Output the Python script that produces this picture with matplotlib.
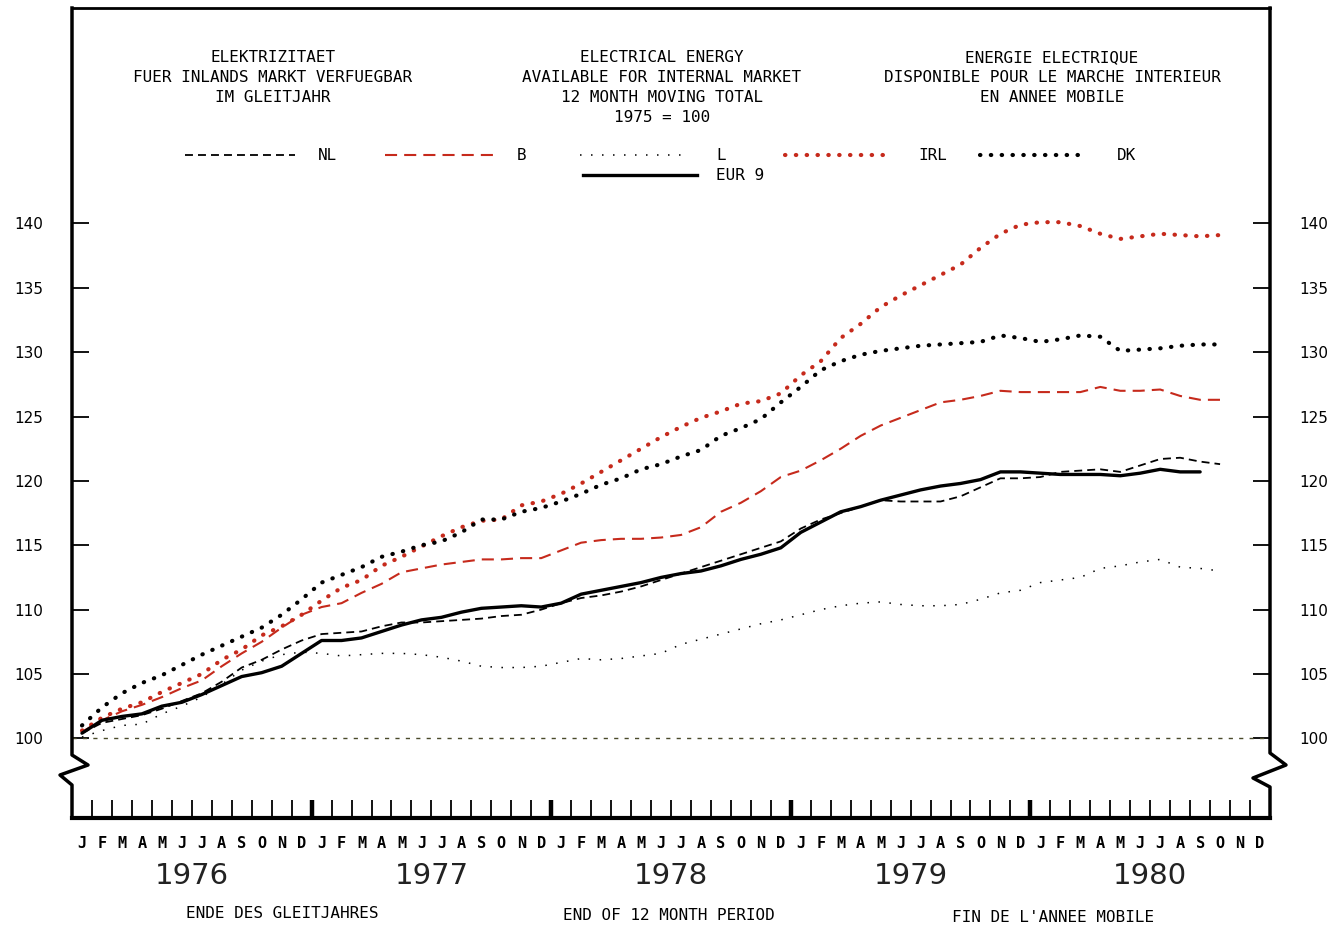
import matplotlib
matplotlib.use('Agg')
import matplotlib.pyplot as plt
import matplotlib.transforms as mtransforms
from matplotlib.lines import Line2D

# month letters and years along the bottom
months = list('JFMAMJJASOND') * 5
years = ['1976', '1977', '1978', '1979', '1980']

# index values, 1975 = 100, one value per month from Jan 1976
eur9 = [100.4, 101.4, 101.7, 101.9, 102.5, 102.8, 103.4, 104.1, 104.8, 105.1, 105.6, 106.6,
        107.6, 107.6, 107.8, 108.3, 108.8, 109.2, 109.4, 109.8, 110.1, 110.2, 110.3, 110.2,
        110.5, 111.2, 111.5, 111.8, 112.1, 112.5, 112.8, 113.0, 113.4, 113.9, 114.3, 114.8,
        116.0, 116.8, 117.6, 118.0, 118.5, 118.9, 119.3, 119.6, 119.8, 120.1, 120.7, 120.7,
        120.6, 120.5, 120.5, 120.5, 120.4, 120.6, 120.9, 120.7, 120.7]
nl = [100.4, 101.2, 101.5, 101.8, 102.3, 102.9, 103.5, 104.4, 105.5, 106.1, 106.9, 107.6,
      108.1, 108.2, 108.3, 108.7, 109.0, 109.0, 109.1, 109.2, 109.3, 109.5, 109.6, 110.0,
      110.5, 110.9, 111.1, 111.4, 111.8, 112.3, 112.8, 113.3, 113.8, 114.3, 114.8, 115.3,
      116.3, 117.0, 117.5, 118.0, 118.5, 118.4, 118.4, 118.4, 118.8, 119.5, 120.2, 120.2,
      120.3, 120.7, 120.8, 120.9, 120.7, 121.2, 121.7, 121.8, 121.5, 121.3]
b = [100.5, 101.4, 102.1, 102.6, 103.2, 103.9, 104.5, 105.6, 106.6, 107.5, 108.6, 109.6,
     110.2, 110.5, 111.3, 112.0, 112.9, 113.2, 113.5, 113.7, 113.9, 113.9, 114.0, 114.0,
     114.6, 115.2, 115.4, 115.5, 115.5, 115.6, 115.8, 116.4, 117.6, 118.3, 119.2, 120.3,
     120.8, 121.6, 122.5, 123.5, 124.3, 124.9, 125.5, 126.1, 126.3, 126.6, 127.0, 126.9,
     126.9, 126.9, 126.9, 127.3, 127.0, 127.0, 127.1, 126.6, 126.3, 126.3]
lux = [100.1, 100.6, 101.0, 101.1, 101.9, 102.5, 103.2, 104.2, 105.3, 106.0, 106.5, 106.7,
       106.6, 106.4, 106.5, 106.6, 106.6, 106.5, 106.3, 106.0, 105.6, 105.5, 105.5, 105.6,
       105.9, 106.2, 106.1, 106.2, 106.4, 106.6, 107.3, 107.7, 108.1, 108.5, 108.9, 109.2,
       109.6, 110.0, 110.3, 110.5, 110.6, 110.4, 110.3, 110.3, 110.4, 110.8, 111.3, 111.5,
       112.1, 112.3, 112.5, 113.2, 113.4, 113.7, 113.9, 113.3, 113.2, 113.0]
irl = [100.6, 101.6, 102.3, 102.8, 103.6, 104.3, 105.0, 106.1, 106.9, 108.0, 108.7, 109.6,
       110.7, 111.7, 112.3, 113.4, 114.1, 114.9, 115.7, 116.4, 116.9, 117.0, 118.1, 118.4,
       119.0, 119.8, 120.7, 121.6, 122.5, 123.4, 124.2, 124.9, 125.4, 126.0, 126.2, 126.8,
       128.2, 129.3, 131.1, 132.2, 133.5, 134.4, 135.2, 136.0, 136.8, 138.1, 139.2, 139.9,
       140.1, 140.1, 139.8, 139.2, 138.8, 139.0, 139.2, 139.1, 139.0, 139.1]
dk = [101.0, 102.4, 103.5, 104.3, 104.9, 105.7, 106.5, 107.2, 107.9, 108.6, 109.6, 110.8,
      112.1, 112.7, 113.3, 114.1, 114.5, 115.0, 115.3, 116.0, 117.0, 117.0, 117.6, 117.9,
      118.4, 119.0, 119.7, 120.2, 120.9, 121.3, 121.9, 122.4, 123.5, 124.1, 124.8, 126.1,
      127.3, 128.6, 129.3, 129.8, 130.1, 130.3, 130.5, 130.6, 130.7, 130.8, 131.3, 131.1,
      130.8, 131.0, 131.3, 131.2, 130.1, 130.2, 130.3, 130.5, 130.6, 130.6]
yticks = [100, 105, 110, 115, 120, 125, 130, 135, 140]

RED = '#c62a1c'
W, H = 1343, 933
MONO = 'DejaVu Sans Mono'

# line styles shared by the curves and the legend
st_nl = dict(color='black', lw=1.3, linestyle=(0, (4.4, 2.8)))
st_b = dict(color=RED, lw=1.5, linestyle=(0, (5.8, 3.4)))
st_l = dict(color='black', lw=1.1, linestyle=(0, (1, 6.2)))
st_irl = dict(color=RED, lw=3, linestyle=(0, (0.1, 2.5)), dash_capstyle='round')
st_dk = dict(color='black', lw=3, linestyle=(0, (0.1, 2.5)), dash_capstyle='round')
st_eur = dict(color='black', lw=2.4)

fig = plt.figure(figsize=(W / 100, H / 100), dpi=100)
ax = fig.add_axes([72 / W, 1 - 818 / H, (1270 - 72) / W, 810 / H])

ax.plot(range(len(nl)), nl, **st_nl)
ax.plot(range(len(b)), b, **st_b)
ax.plot(range(len(lux)), lux, **st_l)
ax.plot(range(len(irl)), irl, **st_irl)
ax.plot(range(len(dk)), dk, **st_dk)
ax.plot(range(len(eur9)), eur9, solid_capstyle='round', **st_eur)

# base line at 100
ax.axhline(100, color='#4a4a2a', lw=1, linestyle=(0, (3, 4.5)))

ax.set_xlim(-0.5, 59.5)
ax.set_ylim(93.81, 156.74)

# frame: top and bottom spines, hand drawn sides with a break
for s in ['left', 'right']:
    ax.spines[s].set_visible(False)
ax.spines['top'].set_linewidth(2)
ax.spines['bottom'].set_linewidth(3)
lx = [(p - 72) / 1198 for p in [72, 72, 88, 60, 72, 72]]
ly = [(818 - p) / 810 for p in [8, 755, 765, 775, 785, 818]]
ax.plot(lx, ly, color='black', lw=2.5, transform=ax.transAxes, clip_on=False)
rx = [(p - 72) / 1198 for p in [1270, 1270, 1286, 1253, 1270, 1270]]
ry = [(818 - p) / 810 for p in [8, 753, 765, 778, 787, 818]]
ax.plot(rx, ry, color='black', lw=2.5, transform=ax.transAxes, clip_on=False)

# y ticks both sides
ax.set_yticks(yticks)
ax.tick_params(axis='y', direction='in', length=12, width=1.3, pad=21,
               labelsize=11, left=True, right=True, labelleft=True, labelright=True)

# x ticks on month boundaries, thick ones between years
ax.set_xticks([k * 12 - 0.5 for k in range(1, 5)])
ax.set_xticks([k - 0.5 for k in range(1, 60) if k % 12 != 0], minor=True)
ax.tick_params(axis='x', which='major', direction='in', length=13, width=3.2,
               labelbottom=False)
ax.tick_params(axis='x', which='minor', direction='in', length=13, width=1.3)

trans = mtransforms.blended_transform_factory(ax.transData, ax.transAxes)
for i, m in enumerate(months):
    ax.text(i, -0.031, m, transform=trans, ha='center', va='center',
            family=MONO, fontsize=11, fontweight='bold')
for k, yr in enumerate(years):
    ax.text(k * 12 + 5.5, -0.072, yr, transform=trans, ha='center', va='center',
            fontsize=21, color='#222222')

# titles
def ftext(x, y, s, **kw):
    fig.text(x / W, 1 - y / H, s, family=MONO, fontsize=11.5, va='center', **kw)

for j, s in enumerate(['ELEKTRIZITAET', 'FUER INLANDS MARKT VERFUEGBAR', 'IM GLEITJAHR']):
    ftext(273, 58 + j * 19.7, s, ha='center')
for j, s in enumerate(['ELECTRICAL ENERGY', 'AVAILABLE FOR INTERNAL MARKET',
                       '12 MONTH MOVING TOTAL', '1975 = 100']):
    ftext(662, 58 + j * 19.7, s, ha='center')
for j, s in enumerate(['ENERGIE ELECTRIQUE', 'DISPONIBLE POUR LE MARCHE INTERIEUR',
                       'EN ANNEE MOBILE']):
    ftext(1052, 58 + j * 19.7, s, ha='center')

# legend drawn by hand
legend = [(185, 295, 155, 318, 'NL', st_nl),
          (385, 497, 155, 517, 'B', st_b),
          (580, 690, 155, 716, 'L', st_l),
          (785, 890, 155, 918, 'IRL', st_irl),
          (980, 1087, 155, 1117, 'DK', st_dk),
          (583, 697, 175, 716, 'EUR 9', st_eur)]
for x0, x1, y, xl, lab, st in legend:
    fig.add_artist(Line2D([x0 / W, x1 / W], [1 - y / H, 1 - y / H],
                          transform=fig.transFigure, **st))
    ftext(xl, y, lab, ha='left')

# captions under the years
ftext(282, 914, 'ENDE DES GLEITJAHRES', ha='center')
ftext(669, 916, 'END OF 12 MONTH PERIOD', ha='center')
ftext(1053, 917, "FIN DE L'ANNEE MOBILE", ha='center')

fig.savefig('out.png', dpi=100)
